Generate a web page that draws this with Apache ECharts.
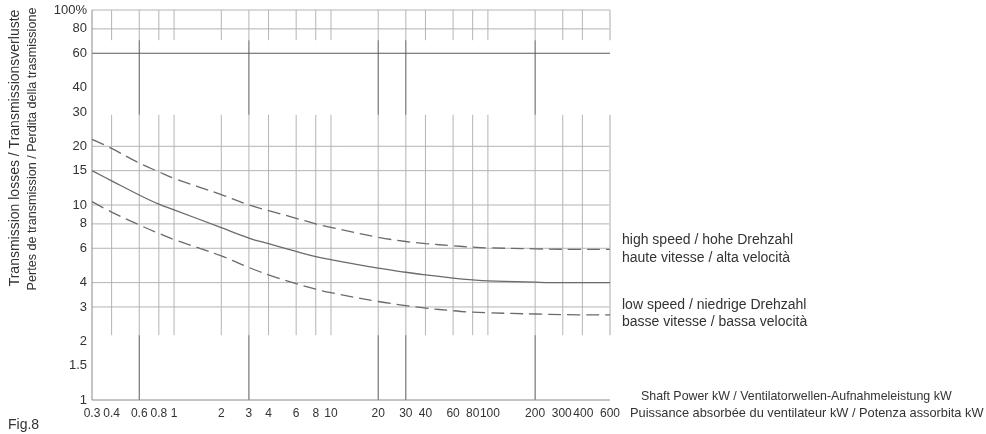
<!DOCTYPE html>
<html><head><meta charset="utf-8">
<script src="https://cdn.jsdelivr.net/npm/echarts@6/dist/echarts.min.js"></script>
<style>html,body{margin:0;padding:0;background:#fff}#c{width:986px;height:434px}</style>
</head><body><div id="c"></div>
<script>
// ---- data ----
const xTicks = [0.3,0.4,0.6,0.8,1,2,3,4,6,8,10,20,30,40,60,80,100,200,300,400,600];
const yTicks = [1,1.5,2,3,4,6,8,10,15,20,30,40,60,80,100];
const xThinGrid = [0.4,0.6,0.8,1,2,3,4,6,8,10,20,30,40,60,80,100,200,300,400];
const xDarkGrid = [0.6,3,20,30,200];
const yThinGrid = [100,80,20,15,10,8,6,4,3];
const yDarkGrid = [60];
const bandTop = [70,100], bandMid = [29,70], bandLow = [2.15,29], bandBottom = [1,2.15];
const powerX    = [0.3,0.4,0.6,0.8,1,2,3,4,6,8,10,20,30,40,60,80,100,200,300,600];
const highSpeed = [21.7,19.5,16.4,14.8,13.7,11.3,10.0,9.35,8.55,8.0,7.67,6.83,6.5,6.34,6.18,6.08,6.03,5.96,5.93,5.92];
const average   = [15.0,13.3,11.25,10.1,9.45,7.65,6.77,6.33,5.78,5.44,5.24,4.74,4.52,4.38,4.22,4.13,4.08,4.02,4.0,4.0];
const lowSpeed  = [10.4,9.2,7.9,7.15,6.65,5.48,4.78,4.38,3.95,3.7,3.55,3.2,3.05,2.96,2.87,2.82,2.8,2.76,2.74,2.73];

const pairs = (xs, ys) => xs.map((x,i)=>[x, ys[i]]);
const vSeg = (xs, band) => xs.map(x => [x, band[0], x, band[1]]);
const hSeg = (ys) => ys.map(y => [0.3, y, 600, y]);

const thinSegs = [].concat(vSeg(xThinGrid, bandTop), vSeg(xThinGrid, bandLow), hSeg(yThinGrid));
const darkSegs = [].concat(vSeg(xDarkGrid, bandMid), vSeg(xDarkGrid, bandBottom), hSeg(yDarkGrid));
const edgeSegs = [].concat(vSeg([600], bandTop), vSeg([600], bandLow));
const frameSegs = [[0.3,1,0.3,100],[0.3,1,600,1]];

function segSeries(data, color, width, z) {
  return {
    type: 'custom', silent: true, z: z,
    data: data,
    encode: {x: [0,2], y: [1,3]},
    renderItem: function(params, api) {
      const p1 = api.coord([api.value(0), api.value(1)]);
      const p2 = api.coord([api.value(2), api.value(3)]);
      return {type: 'line', shape: {x1: p1[0], y1: p1[1], x2: p2[0], y2: p2[1]},
              style: {stroke: color, lineWidth: width}};
    }
  };
}

const FONT = '"Liberation Sans",Arial,sans-serif';
const xLabelStyle = {fontFamily: FONT, fontSize: 12, color: '#333'};
// small horizontal nudges for crowded x labels (styling only)
const xNudge = {100: 'r2', 300: 'l1', 400: 'r1'};
const rich = {
  n:  Object.assign({}, xLabelStyle),
  r2: Object.assign({padding: [0,0,0,4]}, xLabelStyle),
  r1: Object.assign({padding: [0,0,0,2]}, xLabelStyle),
  l1: Object.assign({padding: [0,2,0,0]}, xLabelStyle)
};

const curveStyle = {color: '#6a6a6a', width: 1.3};

const chart = echarts.init(document.getElementById('c'), null, {renderer: 'canvas'});
chart.setOption({
  animation: false,
  backgroundColor: '#fff',
  grid: {left: 92, right: 376, top: 10, bottom: 34},
  xAxis: {
    type: 'log', logBase: 10, min: 0.3, max: 600,
    axisLine: {show: false}, axisTick: {show: false}, splitLine: {show: false}, minorSplitLine: {show: false},
    axisLabel: Object.assign({customValues: xTicks, margin: 8, rich: rich,
      formatter: v => '{' + (xNudge[v] || 'n') + '|' + String(v) + '}'}, xLabelStyle)
  },
  yAxis: {
    type: 'log', logBase: 10, min: 1, max: 100,
    axisLine: {show: false}, axisTick: {show: false}, splitLine: {show: false}, minorSplitLine: {show: false},
    axisLabel: {customValues: yTicks, margin: 5, fontFamily: FONT, fontSize: 13, color: '#333',
      formatter: v => v === 100 ? '100%' : String(v)}
  },
  series: [
    segSeries(thinSegs, '#b4b4b4', 1, 1),
    segSeries(edgeSegs, '#d4d4d4', 2, 1),
    segSeries(darkSegs, '#5a5a5a', 1, 2),
    segSeries(frameSegs, '#8a8a8a', 1, 2),
    {type: 'line', data: pairs(powerX, highSpeed), smooth: 0.4, showSymbol: false, z: 5,
     lineStyle: Object.assign({type: [13, 6]}, curveStyle)},
    {type: 'line', data: pairs(powerX, average), smooth: 0.4, showSymbol: false, z: 5,
     lineStyle: Object.assign({}, curveStyle)},
    {type: 'line', data: pairs(powerX, lowSpeed), smooth: 0.4, showSymbol: false, z: 5,
     lineStyle: Object.assign({type: [13, 6]}, curveStyle)}
  ],
  graphic: [
    {type: 'text', x: 15, y: 148, rotation: Math.PI/2,
     style: {text: 'Transmission losses / Transmissionsverluste', font: '14px ' + FONT, fill: '#333', textAlign: 'center', textVerticalAlign: 'middle'}},
    {type: 'text', x: 33, y: 149, rotation: Math.PI/2,
     style: {text: 'Pertes de transmission / Perdita della trasmissione', font: '12.6px ' + FONT, fill: '#333', textAlign: 'center', textVerticalAlign: 'middle'}},
    {type: 'text', x: 8, y: 425,
     style: {text: 'Fig.8', font: '14px ' + FONT, fill: '#333', textAlign: 'left', textVerticalAlign: 'middle'}},
    {type: 'text', x: 622, y: 240,
     style: {text: 'high speed / hohe Drehzahl', font: '14px ' + FONT, fill: '#333', textAlign: 'left', textVerticalAlign: 'middle'}},
    {type: 'text', x: 622, y: 258,
     style: {text: 'haute vitesse / alta velocità', font: '14px ' + FONT, fill: '#333', textAlign: 'left', textVerticalAlign: 'middle'}},
    {type: 'text', x: 622, y: 305,
     style: {text: 'low speed / niedrige Drehzahl', font: '14px ' + FONT, fill: '#333', textAlign: 'left', textVerticalAlign: 'middle'}},
    {type: 'text', x: 622, y: 322,
     style: {text: 'basse vitesse / bassa velocità', font: '14px ' + FONT, fill: '#333', textAlign: 'left', textVerticalAlign: 'middle'}},
    {type: 'text', x: 641, y: 397,
     style: {text: 'Shaft Power kW / Ventilatorwellen-Aufnahmeleistung kW', font: '12.4px ' + FONT, fill: '#333', textAlign: 'left', textVerticalAlign: 'middle'}},
    {type: 'text', x: 630, y: 413,
     style: {text: 'Puissance absorbée du ventilateur kW / Potenza assorbita kW', font: '12.8px ' + FONT, fill: '#333', textAlign: 'left', textVerticalAlign: 'middle'}}
  ]
});
</script></body></html>
